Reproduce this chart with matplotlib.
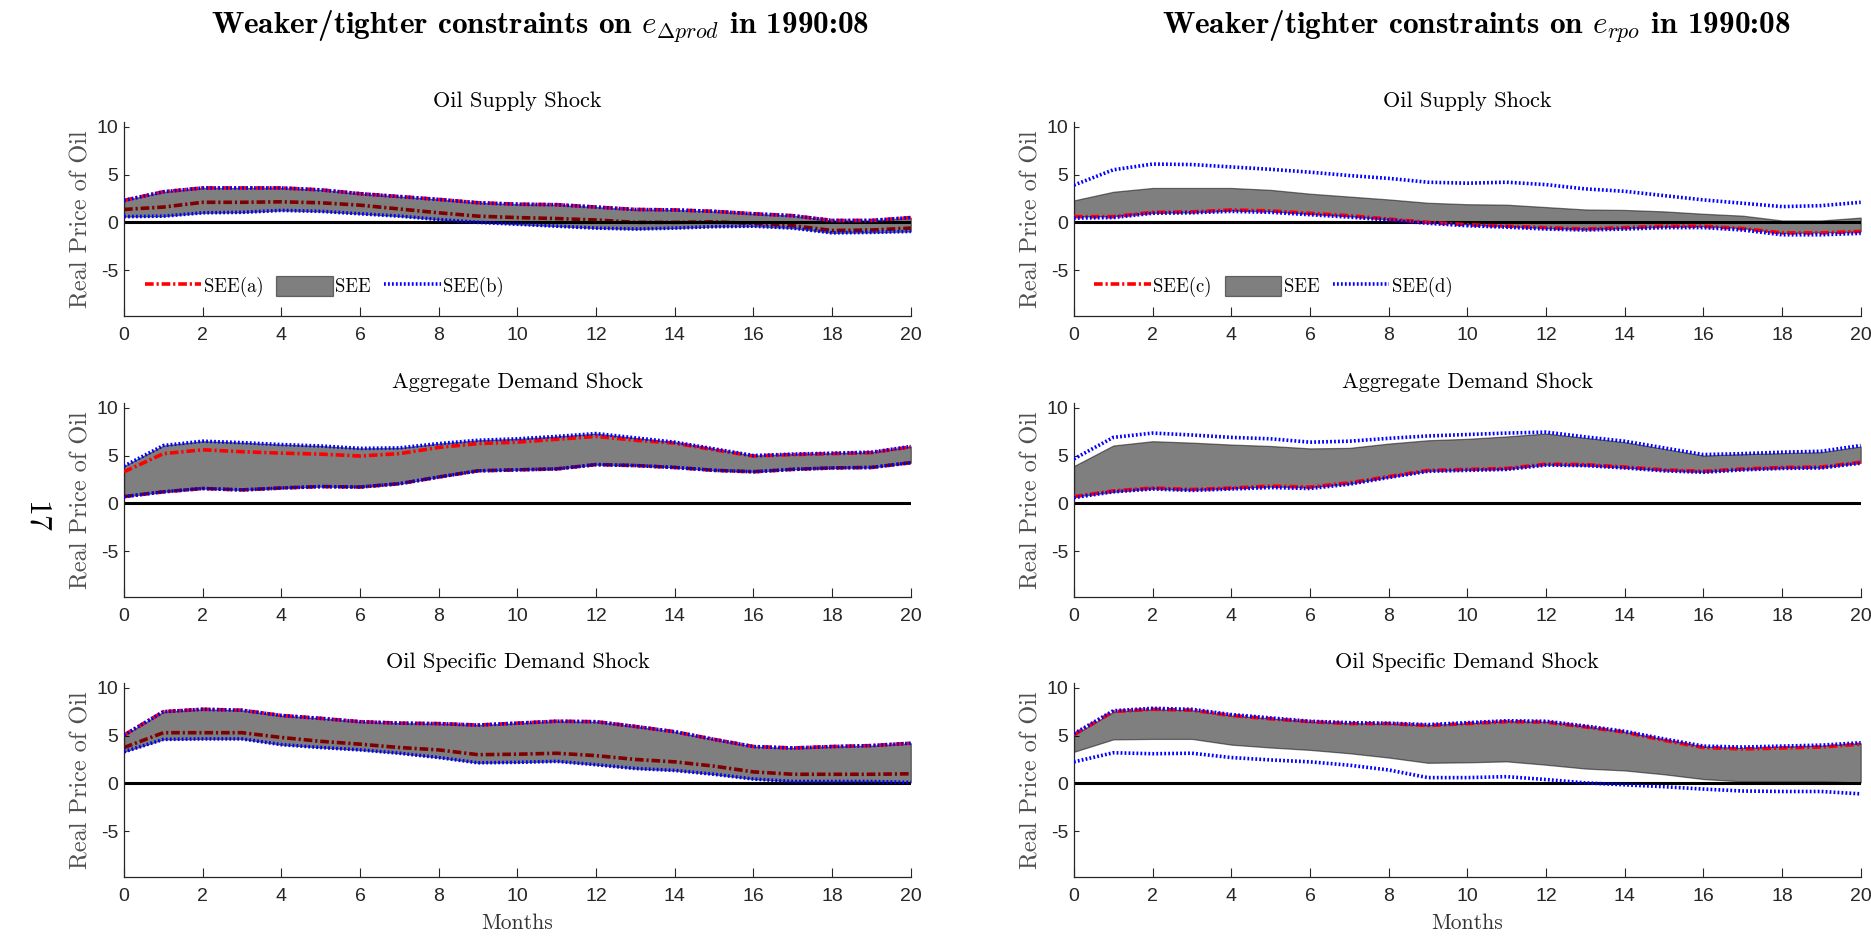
import matplotlib
matplotlib.use("Agg")
import matplotlib.pyplot as plt
import numpy as np

# ---------------------------
# data
# ---------------------------
months = np.arange(21)

# SEE (identified set) bounds, same in both columns
supply_lo = [0.6, 0.65, 1.0, 1.05, 1.25, 1.15, 0.9, 0.65, 0.3, 0.0, -0.2, -0.4, -0.6, -0.7, -0.6, -0.45, -0.4, -0.6, -1.1, -1.05, -0.95]
supply_hi = [2.3, 3.2, 3.6, 3.6, 3.6, 3.4, 3.0, 2.7, 2.4, 2.05, 1.9, 1.85, 1.6, 1.35, 1.3, 1.15, 0.9, 0.7, 0.2, 0.2, 0.5]
agg_lo = [0.7, 1.2, 1.55, 1.4, 1.6, 1.75, 1.7, 2.05, 2.75, 3.4, 3.5, 3.6, 4.05, 3.95, 3.75, 3.45, 3.3, 3.55, 3.7, 3.75, 4.25]
agg_hi = [3.9, 6.05, 6.5, 6.35, 6.15, 6.0, 5.75, 5.8, 6.25, 6.6, 6.75, 7.0, 7.3, 6.85, 6.4, 5.7, 5.0, 5.15, 5.25, 5.35, 5.95]
osd_lo = [3.3, 4.6, 4.65, 4.65, 4.05, 3.75, 3.5, 3.15, 2.7, 2.15, 2.2, 2.3, 1.95, 1.55, 1.35, 0.95, 0.45, 0.2, 0.2, 0.2, 0.1]
osd_hi = [5.05, 7.5, 7.75, 7.65, 7.1, 6.8, 6.45, 6.3, 6.25, 6.1, 6.3, 6.5, 6.45, 5.95, 5.4, 4.6, 3.85, 3.7, 3.85, 3.95, 4.2]

# SEE(a): tighter constraint on e_dprod (other bound = SEE bound)
supply_a_lo = [1.35, 1.6, 2.1, 2.1, 2.15, 2.05, 1.8, 1.4, 1.0, 0.65, 0.5, 0.4, 0.25, 0.0, 0.0, 0.05, -0.1, -0.35, -0.85, -0.8, -0.6]
agg_a_hi = [3.3, 5.2, 5.6, 5.4, 5.25, 5.15, 4.95, 5.2, 5.85, 6.25, 6.4, 6.7, 7.0, 6.6, 6.3, 5.6, 4.95, 5.1, 5.2, 5.3, 5.9]
osd_a_lo = [3.75, 5.3, 5.3, 5.3, 4.8, 4.4, 4.1, 3.75, 3.5, 3.0, 3.05, 3.15, 2.9, 2.5, 2.25, 1.8, 1.2, 0.95, 0.95, 0.95, 1.0]

# SEE(c): tighter constraint on e_rpo (set collapses to one path)
supply_c = [0.6, 0.6, 1.05, 1.1, 1.3, 1.2, 0.95, 0.7, 0.35, 0.0, -0.25, -0.4, -0.55, -0.7, -0.55, -0.4, -0.4, -0.65, -1.1, -1.1, -0.95]
agg_c = [0.7, 1.3, 1.6, 1.45, 1.6, 1.8, 1.7, 2.15, 2.8, 3.45, 3.55, 3.65, 4.1, 4.05, 3.8, 3.5, 3.35, 3.6, 3.75, 3.8, 4.3]
osd_c = [5.1, 7.5, 7.75, 7.65, 7.1, 6.75, 6.45, 6.25, 6.25, 6.05, 6.25, 6.45, 6.4, 5.9, 5.35, 4.5, 3.75, 3.6, 3.7, 3.8, 4.1]

# SEE(d): weaker constraint on e_rpo
supply_d_lo = [0.45, 0.5, 0.95, 1.0, 1.15, 1.05, 0.8, 0.55, 0.25, -0.1, -0.35, -0.5, -0.7, -0.8, -0.7, -0.55, -0.55, -0.8, -1.3, -1.3, -1.15]
supply_d_hi = [3.9, 5.5, 6.1, 6.05, 5.8, 5.55, 5.25, 4.9, 4.6, 4.2, 4.1, 4.2, 3.95, 3.5, 3.25, 2.8, 2.35, 2.0, 1.65, 1.75, 2.1]
agg_d_lo = [0.6, 1.2, 1.5, 1.35, 1.5, 1.65, 1.55, 2.0, 2.7, 3.35, 3.45, 3.55, 4.0, 3.95, 3.7, 3.4, 3.25, 3.5, 3.65, 3.7, 4.2]
agg_d_hi = [4.65, 6.9, 7.35, 7.15, 6.9, 6.75, 6.4, 6.5, 6.8, 7.05, 7.2, 7.35, 7.45, 6.95, 6.5, 5.8, 5.1, 5.2, 5.35, 5.45, 6.05]
osd_d_lo = [2.25, 3.2, 3.1, 3.15, 2.7, 2.45, 2.25, 1.9, 1.4, 0.6, 0.6, 0.7, 0.4, 0.05, -0.15, -0.35, -0.6, -0.8, -0.85, -0.85, -1.1]
osd_d_hi = [5.2, 7.6, 7.85, 7.75, 7.2, 6.85, 6.5, 6.35, 6.3, 6.15, 6.35, 6.55, 6.5, 6.0, 5.45, 4.65, 3.9, 3.8, 3.9, 4.0, 4.25]

titles = ["Oil Supply Shock", "Aggregate Demand Shock", "Oil Specific Demand Shock"]
col_titles = [r"Weaker/tighter constraints on $e_{\Delta prod}$ in 1990:08",
              r"Weaker/tighter constraints on $e_{rpo}$ in 1990:08"]

# ---------------------------
# style
# ---------------------------
plt.rcParams['mathtext.fontset'] = 'cm'
plt.rcParams['axes.unicode_minus'] = False
TICKFONT = ['Liberation Sans', 'DejaVu Sans']
RED = (1, 0, 0)
BLUE = (0, 0, 1)
AXC = '#262626'
dashdot = (0, (2.4, 0.8, 0.6, 0.8))
dotted = (0, (0.5, 0.6))

fig = plt.figure(figsize=(18.71, 9.40), dpi=100)

lefts = [0.0663, 0.574]
width = 0.4205
bottoms = [0.6638, 0.3649, 0.067]
height = 0.2064

see = [(supply_lo, supply_hi), (agg_lo, agg_hi), (osd_lo, osd_hi)]
# left column: SEE(a) lower / upper
red_left = [(supply_a_lo, supply_hi), (agg_lo, agg_a_hi), (osd_a_lo, osd_hi)]
red_right = [supply_c, agg_c, osd_c]
blue_right = [(supply_d_lo, supply_d_hi), (agg_d_lo, agg_d_hi), (osd_d_lo, osd_d_hi)]


def style_axes(ax, row):
    ax.set_xlim(0, 20)
    ax.set_ylim(-9.8, 10.5)
    ax.set_xticks(range(0, 21, 2))
    ax.set_yticks([-5, 0, 5, 10])
    for s in ['top', 'right']:
        ax.spines[s].set_visible(False)
    for s in ['left', 'bottom']:
        ax.spines[s].set_color(AXC)
        ax.spines[s].set_linewidth(0.9)
    ax.tick_params(axis='x', direction='in', length=6.5, width=0.8, color=AXC, pad=8)
    ax.tick_params(axis='y', direction='in', length=3.5, width=0.8, color=AXC, pad=4)
    for lab in ax.get_xticklabels() + ax.get_yticklabels():
        lab.set_family(TICKFONT)
        lab.set_fontsize(14)
        lab.set_color(AXC)
    ax.set_ylabel("Real Price of Oil", family='cmr10', fontsize=17.5, color='#505050')
    ax.yaxis.set_label_coords(-0.04, 0.5)
    ax.text(0.5, 1.105, titles[row], transform=ax.transAxes, ha='center', va='center',
            family='cmr10', fontsize=16)
    ax.axhline(0, color='black', lw=2.2, zorder=2.5)
    if row == 2:
        ax.set_xlabel("Months", family='cmr10', fontsize=15.5, color='#333333', labelpad=6)


for col in range(2):
    for row in range(3):
        ax = fig.add_axes([lefts[col], bottoms[row], width, height])
        lo, hi = see[row]
        fill = ax.fill_between(months, lo, hi, facecolor='black', alpha=0.5,
                               edgecolor='black', linewidth=0.9, zorder=2, label='SEE')
        if col == 0:
            a_lo, a_hi = red_left[row]
            l_red, = ax.plot(months, a_lo, color=RED, lw=2.6, linestyle=dashdot, zorder=1.5, label='SEE(a)')
            ax.plot(months, a_hi, color=RED, lw=2.6, linestyle=dashdot, zorder=3)
            l_blue, = ax.plot(months, lo, color=BLUE, lw=2.6, linestyle=dotted, zorder=4, label='SEE(b)')
            ax.plot(months, hi, color=BLUE, lw=2.6, linestyle=dotted, zorder=4)
            names = ['SEE(a)', 'SEE', 'SEE(b)']
        else:
            l_red, = ax.plot(months, red_right[row], color=RED, lw=2.6, linestyle=dashdot, zorder=3, label='SEE(c)')
            d_lo, d_hi = blue_right[row]
            l_blue, = ax.plot(months, d_lo, color=BLUE, lw=2.6, linestyle=dotted, zorder=4, label='SEE(d)')
            ax.plot(months, d_hi, color=BLUE, lw=2.6, linestyle=dotted, zorder=4)
            names = ['SEE(c)', 'SEE', 'SEE(d)']
        style_axes(ax, row)
        if row == 0:
            leg = ax.legend([l_red, fill, l_blue], names, loc='center left',
                            bbox_to_anchor=(0.026, 0.15), ncol=3, frameon=False,
                            handlelength=3.0, handleheight=1.2, handletextpad=0.15,
                            columnspacing=0.7, borderaxespad=0, borderpad=0,
                            prop={'family': 'cmr10', 'size': 13.5})

fig.text(0.2886, 0.971, col_titles[0], ha='center', va='center', family='cmb10', fontsize=22.5)
fig.text(0.789, 0.971, col_titles[1], ha='center', va='center', family='cmb10', fontsize=22.5)
fig.text(0.019, 0.45, "17", rotation=-90, ha='center', va='center', family='cmr10', fontsize=23)

fig.savefig("out.png", dpi=100)
